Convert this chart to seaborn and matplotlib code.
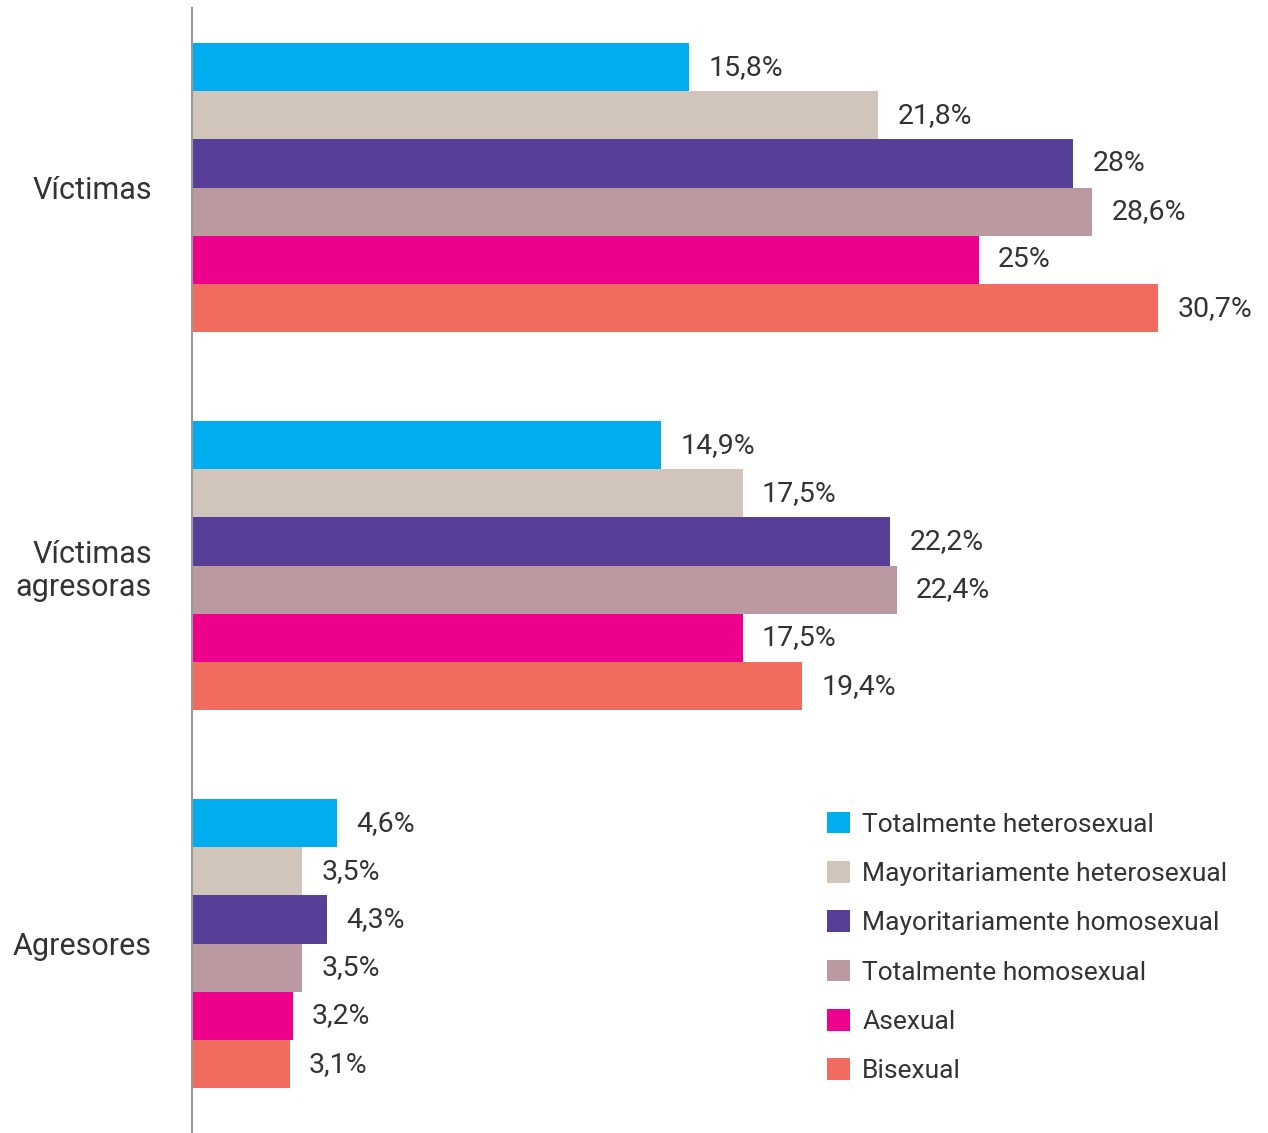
import pandas as pd
import matplotlib
matplotlib.use("Agg")
import matplotlib.pyplot as plt
import seaborn as sns

# data
groups = ["Víctimas", "Víctimas\nagresoras", "Agresores"]
orientations = [
    "Totalmente heterosexual",
    "Mayoritariamente heterosexual",
    "Mayoritariamente homosexual",
    "Totalmente homosexual",
    "Asexual",
    "Bisexual",
]
tot_hetero = [15.8, 14.9, 4.6]
may_hetero = [21.8, 17.5, 3.5]
may_homo = [28.0, 22.2, 4.3]
tot_homo = [28.6, 22.4, 3.5]
asexual = [25.0, 17.5, 3.2]
bisexual = [30.7, 19.4, 3.1]
colors = ["#00AEEF", "#D0C4BB", "#573F98", "#BA9AA0", "#EC008C", "#F26B5F"]

series = [tot_hetero, may_hetero, may_homo, tot_homo, asexual, bisexual]
rows = []
for name, vals in zip(orientations, series):
    for g, v in zip(groups, vals):
        rows.append({"grupo": g, "orientacion": name, "pct": v})
df = pd.DataFrame(rows)

sns.set_style("white")
plt.rcParams["font.family"] = ["Roboto", "DejaVu Sans"]
text_color = "#333333"

fig = plt.figure(figsize=(12.68, 11.33), dpi=100)
ax = fig.add_axes([192 / 1268, 0, 1 - 192 / 1268, 1 - 8 / 1133])

sns.barplot(data=df, x="pct", y="grupo", hue="orientacion", orient="h",
            order=groups, hue_order=orientations, palette=colors,
            saturation=1, width=0.765, linewidth=0, ax=ax)

# value labels with decimal comma
for cont, vals in zip(ax.containers, series):
    labels = [f"{v:g}".replace(".", ",") + "%" for v in vals]
    ax.bar_label(cont, labels=labels, padding=14, fontsize=20.5, color=text_color)

ax.set_xlim(0, 34.2)
ax.set_ylim(2.501, -0.475)
ax.set_xlabel("")
ax.set_ylabel("")
ax.set_xticks([])
ax.tick_params(axis="y", length=0, pad=29, labelsize=22, labelcolor=text_color)
for lab in ax.get_yticklabels():
    lab.set_multialignment("right")

for s in ["top", "right", "bottom"]:
    ax.spines[s].set_visible(False)
ax.spines["left"].set_color("#999999")
ax.spines["left"].set_linewidth(1.5)

ax.legend(loc="upper left", bbox_to_anchor=(816 / 1268, 1 - 801 / 1133),
          bbox_transform=fig.transFigure, frameon=False, fontsize=19,
          handlelength=0.9, handleheight=0.9, handletextpad=0.45,
          labelspacing=0.92, labelcolor=text_color, borderaxespad=0)

fig.savefig("out.png", dpi=100)
